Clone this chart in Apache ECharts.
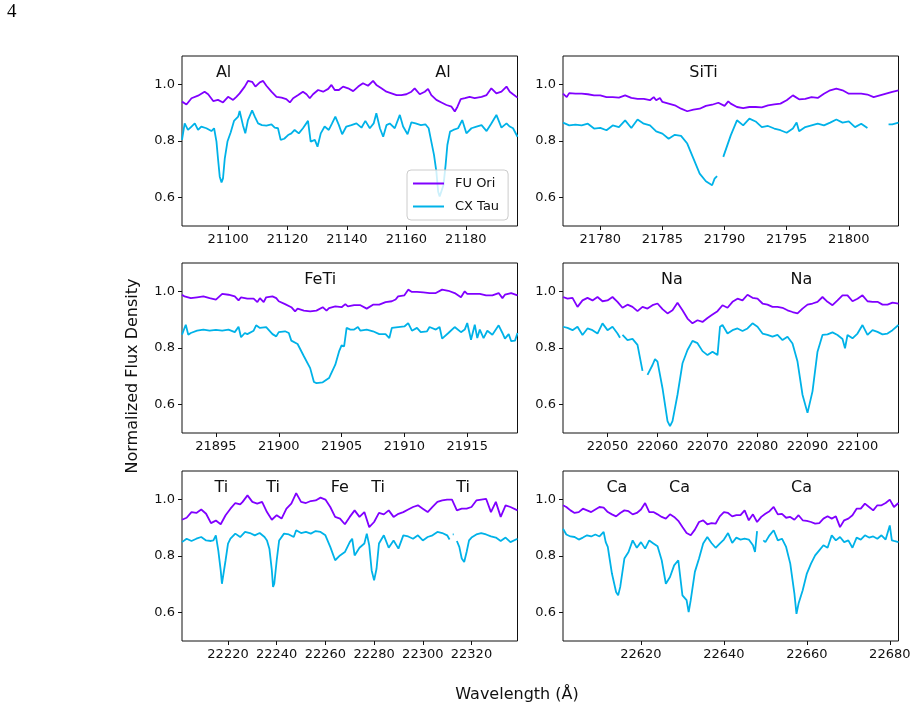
<!DOCTYPE html>
<html>
<head>
<meta charset="utf-8">
<title>FU Ori vs CX Tau</title>
<script src="https://cdn.jsdelivr.net/npm/echarts@6.0.0/dist/echarts.min.js"></script>
<style>
  html, body { margin: 0; padding: 0; background: #fff; }
  #chart { width: 917px; height: 713px; }
</style>
</head>
<body>
<div id="chart"></div>
<script>
// wavelength (A), normalized flux
var fuOri1 = [[21084.5,0.939],[21086.0,0.929],[21087.7,0.951],[21089.9,0.960],[21092.1,0.974],[21093.3,0.965],[21095.0,0.941],[21096.6,0.945],[21098.3,0.936],[21100.0,0.956],[21101.7,0.945],[21102.8,0.956],[21103.9,0.968],[21105.6,0.992],[21106.7,1.012],[21108.1,1.009],[21109.2,0.992],[21110.7,1.007],[21111.8,1.012],[21112.9,0.995],[21114.6,0.974],[21116.3,0.956],[21118.0,0.953],[21119.6,0.948],[21120.8,0.936],[21121.9,0.951],[21123.6,0.962],[21125.2,0.974],[21126.4,0.965],[21127.5,0.951],[21128.6,0.965],[21130.3,0.980],[21132.0,0.974],[21133.7,0.984],[21134.8,0.998],[21135.9,0.980],[21137.3,0.980],[21138.7,0.992],[21140.4,0.986],[21142.1,0.976],[21143.8,0.992],[21145.4,1.004],[21147.1,0.995],[21148.8,1.012],[21149.9,0.998],[21151.6,0.986],[21153.3,0.974],[21155.0,0.968],[21156.7,0.962],[21158.3,0.962],[21160.0,0.965],[21161.7,0.974],[21162.8,0.986],[21164.5,0.965],[21166.2,0.974],[21167.3,0.984],[21168.4,0.962],[21170.1,0.945],[21171.8,0.936],[21173.5,0.927],[21175.2,0.921],[21176.3,0.904],[21177.2,0.921],[21178.3,0.948],[21179.7,0.951],[21181.3,0.956],[21183.0,0.951],[21185.3,0.956],[21187.0,0.962],[21188.6,0.986],[21190.3,0.968],[21192.0,0.974],[21193.7,0.992],[21194.8,0.974],[21195.9,0.965],[21197.4,0.953]];
var cxTau1 = [[21084.5,0.804],[21085.4,0.862],[21086.5,0.839],[21087.7,0.851],[21088.8,0.862],[21089.9,0.839],[21091.0,0.851],[21092.7,0.845],[21094.4,0.835],[21095.3,0.845],[21096.1,0.798],[21096.6,0.739],[21097.2,0.674],[21097.8,0.654],[21098.3,0.668],[21098.9,0.739],[21099.8,0.798],[21100.9,0.831],[21102.0,0.871],[21103.4,0.886],[21103.9,0.906],[21105.0,0.856],[21105.8,0.827],[21106.7,0.874],[21108.1,0.908],[21109.0,0.886],[21110.1,0.862],[21111.4,0.856],[21112.9,0.854],[21114.6,0.859],[21115.7,0.847],[21116.8,0.845],[21117.7,0.804],[21118.9,0.808],[21120.2,0.821],[21121.3,0.827],[21122.4,0.839],[21123.8,0.827],[21125.2,0.845],[21126.9,0.871],[21127.8,0.798],[21129.2,0.804],[21130.1,0.780],[21131.2,0.827],[21132.5,0.851],[21133.9,0.839],[21135.0,0.862],[21136.1,0.886],[21137.3,0.856],[21138.4,0.824],[21139.8,0.851],[21141.5,0.856],[21143.2,0.862],[21144.9,0.847],[21146.2,0.871],[21147.7,0.845],[21149.0,0.862],[21149.9,0.898],[21151.1,0.845],[21152.2,0.815],[21153.3,0.856],[21154.4,0.862],[21156.1,0.845],[21157.8,0.892],[21158.9,0.851],[21160.4,0.824],[21161.7,0.866],[21163.1,0.862],[21164.9,0.856],[21166.4,0.859],[21167.5,0.845],[21168.4,0.798],[21169.3,0.751],[21170.1,0.692],[21170.7,0.621],[21171.2,0.604],[21171.8,0.604],[21172.5,0.645],[21173.2,0.715],[21173.8,0.786],[21174.7,0.833],[21175.8,0.839],[21177.4,0.845],[21178.8,0.874],[21180.2,0.827],[21181.9,0.845],[21183.6,0.851],[21185.3,0.856],[21187.0,0.835],[21188.6,0.862],[21190.3,0.892],[21192.0,0.847],[21193.7,0.862],[21194.8,0.851],[21195.9,0.845],[21197.4,0.815]];

var fuOri2 = [[21777,0.967],[21777.3,0.955],[21777.5,0.969],[21778,0.967],[21778.5,0.967],[21779,0.965],[21779.5,0.961],[21780,0.961],[21780.5,0.955],[21781,0.955],[21781.5,0.953],[21782,0.961],[21782.5,0.952],[21783,0.949],[21783.5,0.949],[21784,0.944],[21784.3,0.955],[21784.5,0.944],[21784.8,0.952],[21785,0.938],[21785.5,0.932],[21786,0.926],[21786.5,0.914],[21787,0.905],[21787.5,0.911],[21788,0.914],[21788.5,0.924],[21789,0.928],[21789.5,0.935],[21790,0.924],[21790.3,0.940],[21790.5,0.932],[21791,0.920],[21791.5,0.916],[21792,0.920],[21792.5,0.920],[21793,0.919],[21793.5,0.926],[21794,0.929],[21794.5,0.932],[21795,0.944],[21795.5,0.961],[21796,0.947],[21796.5,0.949],[21797,0.955],[21797.5,0.952],[21798,0.967],[21798.5,0.979],[21799,0.985],[21799.5,0.979],[21800,0.967],[21800.5,0.967],[21801,0.967],[21801.5,0.964],[21802,0.955],[21802.5,0.961],[21803,0.967],[21803.5,0.973],[21804,0.979]];
var cxTau2 = [[21777,0.865],[21777.5,0.855],[21778,0.858],[21778.5,0.855],[21779,0.861],[21779.5,0.844],[21780,0.846],[21780.5,0.838],[21781,0.855],[21781.5,0.849],[21782,0.873],[21782.5,0.846],[21783,0.876],[21783.5,0.861],[21784,0.855],[21784.5,0.834],[21785,0.826],[21785.5,0.808],[21786,0.822],[21786.5,0.818],[21787,0.791],[21787.5,0.738],[21788,0.685],[21788.5,0.658],[21789,0.644],[21789.2,0.667],[21789.4,0.676],[21789.6,null],[21789.9,0.744],[21790.5,0.820],[21791,0.873],[21791.5,0.855],[21792,0.879],[21792.5,0.869],[21793,0.849],[21793.5,0.853],[21794,0.844],[21794.5,0.838],[21795,0.829],[21795.5,0.844],[21795.8,0.865],[21796,0.834],[21796.5,0.849],[21797,0.855],[21797.5,0.861],[21798,0.855],[21798.5,0.865],[21799,0.876],[21799.5,0.865],[21800,0.869],[21800.5,0.849],[21801,0.861],[21801.5,0.846],[21802.4,null],[21803.2,0.859],[21803.5,0.859],[21804,0.865]];

var fuOri3 = [[21892.3,0.988],[21892.5,0.982],[21893,0.976],[21893.5,0.979],[21894,0.982],[21894.5,0.976],[21895,0.971],[21895.5,0.991],[21896,0.988],[21896.5,0.982],[21896.8,0.968],[21897,0.979],[21897.5,0.974],[21898,0.974],[21898.3,0.962],[21898.5,0.976],[21898.8,0.962],[21899,0.979],[21899.5,0.982],[21899.8,0.976],[21900,0.965],[21900.5,0.955],[21901,0.944],[21901.3,0.929],[21901.5,0.939],[21902,0.932],[21902.5,0.929],[21903,0.932],[21903.5,0.944],[21903.8,0.932],[21904,0.941],[21904.5,0.947],[21905,0.944],[21905.3,0.955],[21905.5,0.947],[21906,0.951],[21906.5,0.951],[21907,0.939],[21907.5,0.953],[21908,0.953],[21908.5,0.962],[21909,0.965],[21909.3,0.971],[21909.5,0.982],[21910,0.986],[21910.3,1.006],[21910.6,0.998],[21911,0.998],[21911.5,0.996],[21912,0.994],[21912.5,0.994],[21913,1.006],[21913.5,1.002],[21914,0.994],[21914.5,0.979],[21914.8,1.000],[21915,0.991],[21915.5,0.991],[21916,0.991],[21916.5,0.986],[21917,0.986],[21917.5,0.994],[21917.8,0.976],[21918,0.988],[21918.5,0.994],[21919,0.986]];
var cxTau3 = [[21892.3,0.847],[21892.6,0.882],[21892.8,0.847],[21893,0.853],[21893.5,0.861],[21894,0.865],[21894.5,0.861],[21895,0.864],[21895.5,0.861],[21896,0.865],[21896.5,0.856],[21896.8,0.875],[21897,0.838],[21897.3,0.853],[21897.5,0.849],[21898,0.861],[21898.2,0.880],[21898.5,0.871],[21899,0.874],[21899.5,0.849],[21899.8,0.841],[21900,0.856],[21900.5,0.859],[21900.8,0.853],[21901,0.826],[21901.5,0.814],[21902,0.771],[21902.5,0.729],[21902.8,0.680],[21903,0.676],[21903.5,0.679],[21904,0.694],[21904.5,0.741],[21904.8,0.788],[21905,0.809],[21905.2,0.806],[21905.4,0.871],[21905.7,0.865],[21906,0.865],[21906.3,0.874],[21906.5,0.861],[21907,0.865],[21907.5,0.859],[21908,0.849],[21908.5,0.849],[21908.8,0.835],[21909,0.871],[21909.5,0.874],[21910,0.876],[21910.3,0.888],[21910.6,0.861],[21911,0.871],[21911.3,0.856],[21911.8,0.859],[21912,0.874],[21912.5,0.865],[21912.8,0.874],[21913,0.833],[21913.5,0.853],[21914,0.874],[21914.5,0.856],[21914.8,0.865],[21915,0.888],[21915.3,0.829],[21915.6,0.882],[21915.8,0.835],[21916,0.865],[21916.3,0.835],[21916.6,0.861],[21917,0.847],[21917.5,0.880],[21917.8,0.853],[21918,0.833],[21918.3,0.849],[21918.5,0.824],[21918.8,0.826],[21919,0.853]];

var fuOri4 = [[22041.1,0.980],[22042,0.974],[22043,0.977],[22044,0.945],[22045,0.968],[22046,0.977],[22047,0.968],[22048,0.980],[22049,0.965],[22050,0.968],[22051,0.980],[22052,0.963],[22053,0.942],[22054,0.953],[22055,0.945],[22056,0.930],[22057,0.945],[22058,0.939],[22059,0.951],[22060,0.957],[22061,0.937],[22062,0.922],[22063,0.933],[22064,0.960],[22065,0.933],[22066,0.904],[22067,0.887],[22068,0.898],[22069,0.892],[22070,0.906],[22071,0.918],[22072,0.930],[22073,0.951],[22074,0.942],[22075,0.963],[22076,0.974],[22077,0.968],[22078,0.988],[22079,0.977],[22080,0.974],[22081,0.957],[22082,0.953],[22083,0.945],[22084,0.945],[22085,0.942],[22086,0.933],[22087,0.927],[22088,0.922],[22089,0.939],[22090,0.953],[22091,0.957],[22092,0.963],[22093,0.980],[22094,0.963],[22095,0.951],[22096,0.968],[22097,0.986],[22098,0.986],[22099,0.965],[22100,0.974],[22101,0.986],[22102,0.965],[22103,0.963],[22104,0.963],[22105,0.953],[22106,0.953],[22107,0.960],[22108.2,0.957]];
var cxTau4 = [[22041.1,0.875],[22042,0.871],[22043,0.863],[22044,0.875],[22045,0.846],[22046,0.869],[22047,0.863],[22048,0.851],[22049,0.887],[22050,0.863],[22051,0.875],[22052,0.851],[22052.5,0.836],[22052.7,null],[22053,0.846],[22054,0.828],[22055,0.832],[22056,0.811],[22057,0.719],[22057.5,null],[22058,0.705],[22059,0.740],[22059.5,0.761],[22060,0.752],[22061,0.658],[22062,0.542],[22062.5,0.524],[22063,0.542],[22064,0.635],[22065,0.746],[22066,0.793],[22067,0.825],[22068,0.817],[22069,0.789],[22070,0.775],[22071,0.787],[22072,0.775],[22072.5,0.875],[22073,0.881],[22074,0.851],[22075,0.863],[22076,0.869],[22077,0.860],[22078,0.869],[22079,0.887],[22080,0.875],[22081,0.851],[22082,0.846],[22083,0.840],[22084,0.846],[22085,0.828],[22086,0.840],[22087,0.816],[22088,0.752],[22089,0.635],[22090,0.571],[22091,0.647],[22092,0.787],[22093,0.846],[22094,0.848],[22095,0.855],[22096,0.846],[22097,0.832],[22097.5,0.799],[22098,0.846],[22099,0.834],[22100,0.851],[22101,0.881],[22102,0.846],[22103,0.863],[22104,0.857],[22105,0.848],[22106,0.851],[22107,0.863],[22108.2,0.881]];

var fuOri5 = [[22201.1,0.928],[22203,0.935],[22205,0.955],[22207,0.952],[22209,0.964],[22211,0.949],[22213,0.916],[22215,0.925],[22217,0.912],[22219,0.944],[22221,0.967],[22223,0.987],[22225,0.982],[22226,0.991],[22228,1.014],[22230,0.991],[22232,0.985],[22234,0.991],[22236,0.955],[22238,0.928],[22240,0.944],[22242,0.932],[22244,0.967],[22246,0.985],[22248,1.022],[22250,0.991],[22252,0.987],[22254,0.994],[22256,0.996],[22258,1.006],[22260,0.999],[22262,0.973],[22264,0.938],[22266,0.932],[22268,0.912],[22270,0.938],[22272,0.961],[22274,0.938],[22276,0.955],[22278,0.902],[22280,0.920],[22282,0.952],[22284,0.947],[22286,0.961],[22288,0.938],[22290,0.949],[22292,0.955],[22294,0.964],[22296,0.973],[22298,0.979],[22300,0.967],[22302,0.955],[22304,0.973],[22306,0.991],[22308,0.996],[22310,0.999],[22312,0.999],[22314,0.961],[22316,0.967],[22318,0.967],[22320,0.973],[22322,0.996],[22324,0.999],[22326,1.002],[22328,0.955],[22330,0.991],[22332,0.938],[22334,0.979],[22336,0.973],[22338.9,0.961]];
var cxTau5 = [[22201.1,0.849],[22203,0.861],[22205,0.853],[22207,0.861],[22209,0.867],[22211,0.855],[22213,0.853],[22214,0.855],[22215,0.873],[22216,0.820],[22217,0.749],[22217.5,0.702],[22218,0.708],[22219,0.785],[22220,0.844],[22221,0.861],[22223,0.879],[22225,0.867],[22227,0.885],[22229,0.881],[22231,0.873],[22233,0.881],[22235,0.867],[22236,0.855],[22237,0.826],[22238,0.749],[22238.5,0.691],[22239,0.702],[22240,0.785],[22241,0.855],[22243,0.879],[22245,0.876],[22247,0.867],[22248,0.891],[22250,0.881],[22252,0.885],[22254,0.879],[22256,0.888],[22258,0.885],[22260,0.873],[22262,0.832],[22264,0.785],[22266,0.802],[22268,0.814],[22270,0.849],[22271,0.861],[22272,0.802],[22274,0.829],[22276,0.844],[22277,0.879],[22278,0.838],[22279,0.749],[22280,0.714],[22281,0.755],[22282,0.844],[22284,0.873],[22286,0.829],[22288,0.855],[22290,0.826],[22292,0.873],[22294,0.869],[22296,0.861],[22298,0.873],[22300,0.855],[22302,0.867],[22304,0.873],[22306,0.885],[22308,0.881],[22310,0.873],[22311,0.858],[22311.8,null],[22312.3,0.876],[22312.7,0.876],[22313.2,null],[22314,0.853],[22315,0.832],[22316,0.791],[22317,0.779],[22318,0.814],[22319,0.855],[22320,0.865],[22322,0.876],[22324,0.881],[22326,0.876],[22328,0.869],[22330,0.865],[22332,0.853],[22334,0.865],[22336,0.849],[22338.9,0.861]];

var fuOri6 = [[22601.2,0.979],[22602,0.973],[22603,0.961],[22604,0.952],[22605,0.955],[22606,0.967],[22607,0.961],[22608,0.955],[22609,0.964],[22610,0.973],[22611,0.971],[22612,0.955],[22613,0.947],[22614,0.940],[22615,0.952],[22616,0.961],[22617,0.958],[22618,0.947],[22619,0.952],[22620,0.964],[22621,0.987],[22622,0.955],[22623,0.955],[22624,0.947],[22625,0.938],[22626,0.932],[22627,0.947],[22628,0.938],[22629,0.924],[22630,0.902],[22631,0.881],[22632,0.873],[22633,0.893],[22634,0.920],[22635,0.926],[22636,0.912],[22637,0.916],[22638,0.914],[22639,0.940],[22640,0.955],[22641,0.952],[22642,0.940],[22643,0.944],[22644,0.944],[22645,0.961],[22646,0.926],[22647,0.947],[22648,0.920],[22649,0.938],[22650,0.949],[22651,0.958],[22652,0.973],[22653,0.947],[22654,0.949],[22655,0.935],[22656,0.938],[22657,0.928],[22658,0.944],[22659,0.926],[22660,0.924],[22661,0.920],[22662,0.914],[22663,0.916],[22664,0.932],[22665,0.940],[22666,0.932],[22667,0.940],[22668,0.902],[22669,0.926],[22670,0.932],[22671,0.944],[22672,0.967],[22673,0.967],[22674,0.985],[22675,0.973],[22676,0.961],[22677,0.979],[22678,0.979],[22679,0.987],[22680,0.999],[22681,0.973],[22682.1,0.987]];
var cxTau6 = [[22601.2,0.896],[22602,0.876],[22603,0.869],[22604,0.867],[22605,0.858],[22606,0.865],[22607,0.873],[22608,0.869],[22609,0.876],[22610,0.869],[22611,0.885],[22611.5,0.849],[22612,0.832],[22612.5,0.785],[22613,0.738],[22614,0.673],[22614.5,0.661],[22615,0.691],[22616,0.791],[22617,0.814],[22618,0.855],[22619,0.829],[22620,0.849],[22621,0.826],[22622,0.855],[22623,0.844],[22624,0.834],[22625,0.785],[22626,0.702],[22627,0.726],[22628,0.767],[22629,0.785],[22630,0.661],[22631,0.644],[22631.5,0.602],[22632,0.644],[22633,0.744],[22634,0.791],[22635,0.844],[22636,0.867],[22637,0.846],[22638,0.829],[22639,0.844],[22640,0.858],[22641,0.881],[22642,0.846],[22643,0.865],[22644,0.858],[22645,0.861],[22646,0.858],[22647,0.838],[22647.5,0.814],[22648,0.888],[22648.7,null],[22649.5,0.855],[22650,0.849],[22651,0.873],[22652,0.891],[22653,0.855],[22654,0.861],[22655,0.832],[22656,0.773],[22657,0.667],[22657.5,0.596],[22658,0.632],[22659,0.679],[22660,0.738],[22661,0.773],[22662,0.802],[22663,0.820],[22664,0.838],[22665,0.829],[22666,0.873],[22667,0.855],[22668,0.867],[22669,0.849],[22670,0.855],[22671,0.829],[22672,0.865],[22673,0.858],[22674,0.873],[22675,0.865],[22676,0.869],[22677,0.861],[22678,0.873],[22679,0.858],[22680,0.908],[22680.5,0.855],[22681,0.853],[22682.1,0.849]];

// spectral line labels
var lineNames1 = ['Al', 'Al'];
var lineWaves1 = [21098.5, 21172.3];
var lineNames2 = ['SiTi'];
var lineWaves2 = [21788.3];
var lineNames3 = ['FeTi'];
var lineWaves3 = [21903.3];
var lineNames4 = ['Na', 'Na'];
var lineWaves4 = [22062.9, 22088.8];
var lineNames5 = ['Ti', 'Ti', 'Fe', 'Ti', 'Ti'];
var lineWaves5 = [22217.3, 22238.5, 22265.9, 22281.6, 22316.6];
var lineNames6 = ['Ca', 'Ca', 'Ca'];
var lineWaves6 = [22614.2, 22629.3, 22658.7];
var labelLevel = 1.04;

// axis ranges and ticks
var xRanges = [[21084.5, 21197.4], [21777, 21804], [21892.3, 21919], [22041.1, 22108.2], [22201.1, 22338.9], [22601.2, 22682.1]];
var xTicks = [
  [21100, 21120, 21140, 21160, 21180],
  [21780, 21785, 21790, 21795, 21800],
  [21895, 21900, 21905, 21910, 21915],
  [22050, 22060, 22070, 22080, 22090, 22100],
  [22220, 22240, 22260, 22280, 22300, 22320],
  [22620, 22640, 22660, 22680]
];
var yTicks = [0.6, 0.8, 1.0];

var fuList = [fuOri1, fuOri2, fuOri3, fuOri4, fuOri5, fuOri6];
var cxList = [cxTau1, cxTau2, cxTau3, cxTau4, cxTau5, cxTau6];
var nameList = [lineNames1, lineNames2, lineNames3, lineNames4, lineNames5, lineNames6];
var waveList = [lineWaves1, lineWaves2, lineWaves3, lineWaves4, lineWaves5, lineWaves6];

var fuColor = '#8000ff';
var cxColor = '#00b2e8';
var inkColor = '#111111';
var sans = 'DejaVu Sans';

var chart = echarts.init(document.getElementById('chart'), null, { renderer: 'canvas' });

var colLeft = [182, 563];
var rowTop = [56, 263, 471];
var panelW = 335.5;
var panelH = 170;

var grids = [], xAxes = [], yAxes = [], series = [];

for (var i = 0; i < 6; i++) {
  var col = i % 2, row = Math.floor(i / 2);
  grids.push({
    left: colLeft[col], top: rowTop[row], width: panelW, height: panelH,
    show: true, borderColor: inkColor, borderWidth: 1, backgroundColor: 'transparent'
  });
  xAxes.push({
    type: 'value', gridIndex: i, min: xRanges[i][0], max: xRanges[i][1],
    axisLine: { show: false },
    splitLine: { show: false },
    axisTick: { show: true, length: 4, lineStyle: { color: inkColor }, customValues: xTicks[i] },
    axisLabel: {
      customValues: xTicks[i], margin: 7, color: inkColor, fontFamily: sans, fontSize: 13,
      formatter: function (v) { return String(Math.round(v)); }
    }
  });
  yAxes.push({
    type: 'value', gridIndex: i, min: 0.5, max: 1.1,
    axisLine: { show: false },
    splitLine: { show: false },
    axisTick: { show: true, length: 4, lineStyle: { color: inkColor }, customValues: yTicks },
    axisLabel: {
      customValues: yTicks, margin: 7, color: inkColor, fontFamily: sans, fontSize: 13,
      formatter: function (v) { return v.toFixed(1); }
    }
  });
  series.push({
    name: 'FU Ori', type: 'line', xAxisIndex: i, yAxisIndex: i,
    data: fuList[i], symbol: 'none', showSymbol: false, connectNulls: false,
    lineStyle: { color: fuColor, width: 1.8 }, itemStyle: { color: fuColor },
    animation: false, silent: true
  });
  series.push({
    name: 'CX Tau', type: 'line', xAxisIndex: i, yAxisIndex: i,
    data: cxList[i], symbol: 'none', showSymbol: false, connectNulls: false,
    lineStyle: { color: cxColor, width: 1.8 }, itemStyle: { color: cxColor },
    animation: false, silent: true
  });
  var labels = [];
  for (var k = 0; k < nameList[i].length; k++) {
    labels.push({ name: nameList[i][k], value: [waveList[i][k], labelLevel] });
  }
  series.push({
    type: 'scatter', xAxisIndex: i, yAxisIndex: i, data: labels,
    symbolSize: 0, silent: true, animation: false,
    itemStyle: { opacity: 1, color: 'transparent' },
    label: {
      show: true, position: 'inside', formatter: '{b}',
      color: inkColor, fontFamily: sans, fontSize: 16,
      textBorderWidth: 0, textShadowBlur: 0
    }
  });
}

var option = {
  backgroundColor: '#ffffff',
  animation: false,
  grid: grids,
  xAxis: xAxes,
  yAxis: yAxes,
  legend: {
    data: [{ name: 'FU Ori', icon: 'rect' }, { name: 'CX Tau', icon: 'rect' }],
    orient: 'vertical',
    left: 407, top: 170,
    itemWidth: 31, itemHeight: 2, itemGap: 8,
    padding: [6, 9, 6, 6],
    backgroundColor: 'rgba(255,255,255,0.8)',
    borderColor: '#cccccc', borderWidth: 1, borderRadius: 4,
    textStyle: { color: inkColor, fontFamily: sans, fontSize: 13, lineHeight: 15, padding: [0, 0, 0, 6] },
    selectedMode: false
  },
  graphic: [
    { type: 'text', left: 7, top: 3, style: { text: '4', font: '19px "Liberation Serif"', fill: '#000' } },
    {
      type: 'text', x: 133, y: 376, rotation: Math.PI / 2,
      style: { text: 'Normalized Flux Density', font: '16px "DejaVu Sans"', fill: inkColor, align: 'center', verticalAlign: 'middle' }
    },
    {
      type: 'text', x: 517, y: 695,
      style: { text: 'Wavelength (Å)', font: '16px "DejaVu Sans"', fill: inkColor, align: 'center', verticalAlign: 'middle' }
    }
  ],
  series: series
};

chart.setOption(option);
</script>
</body>
</html>
